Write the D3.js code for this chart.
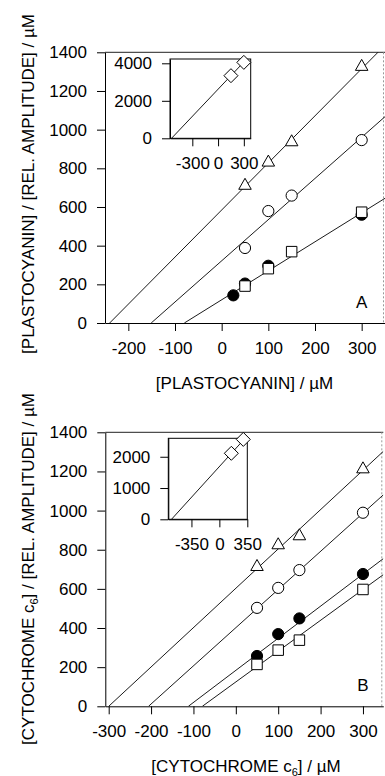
<!DOCTYPE html>
<html>
<head>
<meta charset="utf-8">
<script src="https://cdn.jsdelivr.net/npm/d3@7"></script>
<style>
  body { margin: 0; background: #fff; }
  svg { display: block; }
</style>
</head>
<body>
<script>
// concentrations (uM)
const conc = [50, 100, 150, 300];
const concDotA = [25, 50, 100, 300];

// panel A : plastocyanin
const triA = [720, 840, 945, 1335];
const circA = [388, 579, 659, 946];
const sqA = [191, 281, 369, 573];
const dotA = [143, 204, 296, 560];
const fitXintA = [-240, -151, -80];
const fitSlopeA = [2.435, 2.13, 1.5];
const insetXA = [150, 300];
const insetYA = [3340, 4050];
const insetFitA = [-542, 4.83];

// panel B : cytochrome c6
const triB = [722, 833, 879, 1221];
const circB = [503, 605, 696, 989];
const dotB = [257, 369, 449, 676];
const sqB = [214, 287, 338, 597];
const fitXintB = [-300, -206, -112, -79];
const fitSlopeB = [2.01, 1.95, 1.64, 1.575];
const insetXB = [150, 300];
const insetYB = [2110, 2555];
const insetFitB = [-600, 2.81];

// ticks
const yTicks = [0, 200, 400, 600, 800, 1000, 1200, 1400];
const xTicksA = [-200, -100, 0, 100, 200, 300];
const xTicksB = [-300, -200, -100, 0, 100, 200, 300];
const insetXTicksA = [-300, 0, 300];
const insetYTicksA = [0, 2000, 4000];
const insetXTicksB = [-350, 0, 350];
const insetYTicksB = [0, 1000, 2000];

const FONT = '"Liberation Sans", Arial, Helvetica, sans-serif';
const FS = 17;
const fmt = d => String(d);

const svg = d3.select("body").append("svg")
  .attr("width", 385).attr("height", 776);

// triangle whose bounding box is centred on the point
const triSym = {
  draw(ctx, size) {
    const w = 12.5, h = 11;
    ctx.moveTo(0, -h / 2);
    ctx.lineTo(w / 2, h / 2);
    ctx.lineTo(-w / 2, h / 2);
    ctx.closePath();
  }
};
const diaSym = {
  draw(ctx, size) {
    const r = 7;
    ctx.moveTo(0, -r); ctx.lineTo(r, 0); ctx.lineTo(0, r); ctx.lineTo(-r, 0); ctx.closePath();
  }
};

function styleAxis(g) {
  g.attr("font-family", FONT).attr("font-size", FS);
  g.selectAll("path, line").attr("stroke", "#000").attr("stroke-width", 1);
  g.selectAll("text").attr("fill", "#000");
}

function drawMarks(g, x, y, xs, ys, kind) {
  const sel = g.append("g").selectAll("path").data(xs).enter().append("path")
    .attr("transform", (d, i) => `translate(${x(d)},${y(ys[i])})`)
    .attr("stroke", "#000").attr("stroke-width", 1);
  if (kind === "tri") sel.attr("d", d3.symbol().type(triSym)()).attr("fill", "#fff");
  if (kind === "circ") sel.attr("d", d3.symbol().type(d3.symbolCircle).size(Math.PI * 5.6 * 5.6)()).attr("fill", "#fff");
  if (kind === "dot") sel.attr("d", d3.symbol().type(d3.symbolCircle).size(Math.PI * 5.6 * 5.6)()).attr("fill", "#000");
  if (kind === "sq") sel.attr("d", d3.symbol().type(d3.symbolSquare).size(10.5 * 10.5)()).attr("fill", "#fff");
  if (kind === "dia") sel.attr("d", d3.symbol().type(diaSym)()).attr("fill", "#fff");
}

function drawFits(g, x, y, xints, slopes) {
  const xmax = x.domain()[1];
  xints.forEach((xi, i) => {
    g.append("path")
      .attr("d", d3.line()([[x(xi), y(0)], [x(xmax), y(slopes[i] * (xmax - xi))]]))
      .attr("stroke", "#000").attr("stroke-width", 0.9).attr("fill", "none");
  });
}

function panel(cfg) {
  const x = d3.scaleLinear().domain(cfg.xDomain).range([cfg.left, cfg.right]);
  const y = d3.scaleLinear().domain([0, 1400]).range([cfg.bottom, cfg.top]);
  const id = "clip" + cfg.name;

  svg.append("clipPath").attr("id", id).append("rect")
    .attr("x", cfg.left).attr("y", cfg.top)
    .attr("width", cfg.right - cfg.left).attr("height", cfg.bottom - cfg.top);

  // frame top and right
  svg.append("line").attr("x1", cfg.left).attr("x2", cfg.right)
    .attr("y1", cfg.top).attr("y2", cfg.top).attr("stroke", "#222");
  svg.append("line").attr("x1", cfg.right - 1.5).attr("x2", cfg.right - 1.5)
    .attr("y1", cfg.top).attr("y2", cfg.bottom).attr("stroke", "#999")
    .attr("stroke-dasharray", "2,2");

  const plot = svg.append("g").attr("clip-path", `url(#${id})`);
  drawFits(plot, x, y, cfg.fitXint, cfg.fitSlope);
  cfg.series.forEach(s => drawMarks(svg, x, y, s.xs, s.ys, s.kind));

  svg.append("g").attr("transform", `translate(0,${cfg.bottom})`)
    .call(d3.axisBottom(x).tickValues(cfg.xTicks).tickFormat(fmt).tickSize(8).tickSizeOuter(0).tickPadding(11))
    .call(styleAxis);
  svg.append("g").attr("transform", `translate(${cfg.left},0)`)
    .call(d3.axisLeft(y).tickValues(yTicks).tickFormat(fmt).tickSize(8).tickSizeOuter(0).tickPadding(10))
    .call(styleAxis);

  // inset
  const ix = d3.scaleLinear().domain(cfg.inset.xDomain).range([cfg.inset.left, cfg.inset.right]);
  const iy = d3.scaleLinear().domain(cfg.inset.yDomain).range([cfg.inset.bottom, cfg.inset.top]);
  svg.append("rect").attr("x", cfg.inset.left).attr("y", cfg.inset.top)
    .attr("width", cfg.inset.right - cfg.inset.left).attr("height", cfg.inset.bottom - cfg.inset.top)
    .attr("fill", "#fff").attr("stroke", "#000");
  const iid = "iclip" + cfg.name;
  svg.append("clipPath").attr("id", iid).append("rect")
    .attr("x", cfg.inset.left).attr("y", cfg.inset.top)
    .attr("width", cfg.inset.right - cfg.inset.left).attr("height", cfg.inset.bottom - cfg.inset.top);
  drawFits(svg.append("g").attr("clip-path", `url(#${iid})`), ix, iy, [cfg.inset.fit[0]], [cfg.inset.fit[1]]);
  drawMarks(svg, ix, iy, cfg.inset.xs, cfg.inset.ys, "dia");
  svg.append("g").attr("transform", `translate(0,${cfg.inset.bottom})`)
    .call(d3.axisBottom(ix).tickValues(cfg.inset.xTicks).tickFormat(fmt).tickSize(8).tickSizeOuter(0).tickPadding(11))
    .call(styleAxis);
  svg.append("g").attr("transform", `translate(${cfg.inset.left},0)`)
    .call(d3.axisLeft(iy).tickValues(cfg.inset.yTicks).tickFormat(fmt).tickSize(8).tickSizeOuter(0).tickPadding(10))
    .call(styleAxis);

  // panel letter
  svg.append("text").attr("x", x(300)).attr("y", cfg.bottom - 15)
    .attr("text-anchor", "middle").attr("font-family", FONT).attr("font-size", FS)
    .text(cfg.name);

  return x;
}

panel({
  name: "A", xDomain: [-250, 350], left: 105, right: 385, top: 52.3, bottom: 323,
  xTicks: xTicksA, fitXint: fitXintA, fitSlope: fitSlopeA,
  series: [
    { xs: conc, ys: triA, kind: "tri" },
    { xs: conc, ys: circA, kind: "circ" },
    { xs: concDotA, ys: dotA, kind: "dot" },
    { xs: conc, ys: sqA, kind: "sq" }
  ],
  inset: {
    xDomain: [-560, 380], yDomain: [0, 4230], left: 170, right: 250.7, top: 59, bottom: 138.3,
    xTicks: insetXTicksA, yTicks: insetYTicksA, xs: insetXA, ys: insetYA, fit: insetFitA
  }
});

panel({
  name: "B", xDomain: [-308, 348], left: 105.3, right: 383.3, top: 432.3, bottom: 706.3,
  xTicks: xTicksB, fitXint: fitXintB, fitSlope: fitSlopeB,
  series: [
    { xs: conc, ys: triB, kind: "tri" },
    { xs: conc, ys: circB, kind: "circ" },
    { xs: conc, ys: dotB, kind: "dot" },
    { xs: conc, ys: sqB, kind: "sq" }
  ],
  inset: {
    xDomain: [-640, 350], yDomain: [0, 2590], left: 168.3, right: 247.3, top: 438.3, bottom: 519.3,
    xTicks: insetXTicksB, yTicks: insetYTicksB, xs: insetXB, ys: insetYB, fit: insetFitB
  }
});

// axis titles
function title(t, x, y, rot) {
  const el = svg.append("text")
    .attr("transform", `translate(${x},${y})` + (rot ? " rotate(-90)" : ""))
    .attr("text-anchor", "middle").attr("font-family", FONT).attr("font-size", FS);
  t.forEach(part => {
    const ts = el.append("tspan").text(part.s);
    if (part.sub) ts.attr("font-size", 11).attr("dy", 4);
    if (part.back) ts.attr("dy", -4);
  });
}

title([{ s: "[PLASTOCYANIN] / µM" }], 244.5, 388.5, false);
title([{ s: "[PLASTOCYANIN] / [REL. AMPLITUDE] / µM" }], 34, 184, true);
title([{ s: "[CYTOCHROME c" }, { s: "6", sub: true }, { s: "] / µM", back: true }], 246, 771.5, false);
title([{ s: "[CYTOCHROME c" }, { s: "6", sub: true }, { s: "] / [REL. AMPLITUDE] / µM", back: true }], 34, 569, true);
</script>
</body>
</html>
